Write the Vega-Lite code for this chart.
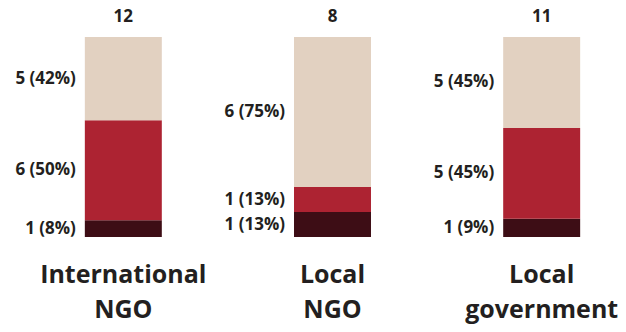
{
  "$schema": "https://vega.github.io/schema/vega-lite/v6.json",
  "autosize": {"type": "none"},
  "width": 579,
  "height": 200,
  "padding": {"left": 43, "top": 37, "right": 4, "bottom": 95},
  "background": "white",
  "config": {
    "view": {"stroke": null},
    "font": "Open Sans",
    "text": {"font": "Open Sans", "fontWeight": "bold", "color": "#231f20"}
  },
  "data": {
    "values": [
      {"org": "International NGO", "level": 1, "count": 1, "label": "1 (8%)"},
      {"org": "International NGO", "level": 2, "count": 6, "label": "6 (50%)"},
      {"org": "International NGO", "level": 3, "count": 5, "label": "5 (42%)"},
      {"org": "Local NGO", "level": 1, "count": 1, "label": "1 (13%)"},
      {"org": "Local NGO", "level": 2, "count": 1, "label": "1 (13%)"},
      {"org": "Local NGO", "level": 3, "count": 6, "label": "6 (75%)"},
      {"org": "Local government", "level": 1, "count": 1, "label": "1 (9%)"},
      {"org": "Local government", "level": 2, "count": 5, "label": "5 (45%)"},
      {"org": "Local government", "level": 3, "count": 5, "label": "5 (45%)"}
    ]
  },
  "encoding": {
    "x": {
      "field": "org",
      "type": "nominal",
      "sort": null,
      "scale": {"paddingInner": 0.632, "paddingOuter": 0.2},
      "axis": {
        "title": null,
        "domain": false,
        "ticks": false,
        "labelAngle": 0,
        "labelExpr": "split(datum.label, ' ')",
        "labelFont": "Open Sans",
        "labelFontWeight": "bold",
        "labelFontSize": 25,
        "labelLineHeight": 35,
        "labelColor": "#231f20",
        "labelPadding": 25,
        "labelBaseline": "top"
      }
    }
  },
  "layer": [
    {
      "mark": {"type": "bar"},
      "encoding": {
        "y": {"field": "count", "type": "quantitative", "stack": "normalize", "axis": null},
        "color": {
          "field": "level",
          "type": "nominal",
          "scale": {"domain": [1, 2, 3], "range": ["#3d0d15", "#ad2332", "#e2d1c1"]},
          "legend": null
        },
        "order": {"field": "level"}
      }
    },
    {
      "mark": {"type": "text", "align": "right", "baseline": "middle", "dx": -9, "fontSize": 17},
      "encoding": {
        "x": {"field": "org", "type": "nominal", "sort": null, "bandPosition": 0},
        "y": {"field": "count", "type": "quantitative", "stack": "normalize", "bandPosition": 0.5},
        "detail": {"field": "level"},
        "order": {"field": "level"},
        "text": {"field": "label"}
      }
    },
    {
      "mark": {"type": "text", "align": "center", "baseline": "middle", "dy": -20, "fontSize": 17},
      "encoding": {
        "y": {"datum": 1},
        "text": {"aggregate": "sum", "field": "count", "type": "quantitative"}
      }
    }
  ]
}
